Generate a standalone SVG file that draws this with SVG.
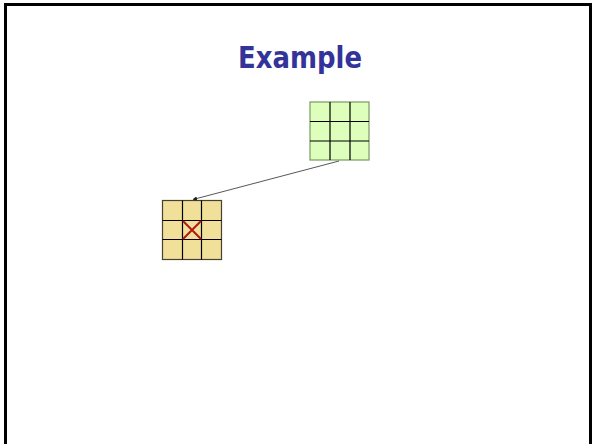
<svg xmlns="http://www.w3.org/2000/svg" width="594" height="444" viewBox="0 0 594 444">
  <style>
    .title { font-family: "Comic Sans MS", "DejaVu Sans", sans-serif; font-weight: bold; font-size: 30px; fill: #333399; }
    .grid-line { stroke: #000; stroke-width: 1.2; fill: none; }
    .green { fill: #ddffbb; stroke: #7a9a60; stroke-width: 1.2; }
    .tan { fill: #f0e09a; stroke: #4a4030; stroke-width: 1.2; }
    .cross { stroke: #b01818; stroke-width: 2; }
    .conn { stroke: #444; stroke-width: 0.9; fill: none; }
  </style>
  <defs>
    <marker id="arrow" viewBox="0 0 10 10" refX="9" refY="5" markerWidth="5" markerHeight="5" orient="auto">
      <path d="M0,0 L10,5 L0,10 z" fill="#222"/>
    </marker>
  </defs>
  <rect x="0" y="0" width="594" height="444" fill="#fff"/>
  <!-- slide frame -->
  <path d="M5.5,450 V4.5 H590.5 V450" fill="none" stroke="#000" stroke-width="3"/>
  <text class="title" x="238" y="68" textLength="124" lengthAdjust="spacingAndGlyphs">Example</text>

  <g id="grid-green">
    <rect class="green" x="310" y="102" width="59" height="58"/>
    <path class="grid-line" d="M330,102 V160 M350,102 V160 M310,121.5 H369 M310,141 H369"/>
  </g>

  <g id="grid-tan">
    <rect class="tan" x="162.5" y="200.5" width="59" height="59"/>
    <path class="grid-line" d="M182.5,200.5 V259.5 M201.5,200.5 V259.5 M162.5,220.5 H221.5 M162.5,239.5 H221.5"/>
    <path class="cross" d="M183,221 L201,239 M201,221 L183,239"/>
  </g>

  <g id="connectors">
    <line class="conn" x1="339" y1="161" x2="193" y2="199.5" marker-end="url(#arrow)"/>
  </g>
</svg>
